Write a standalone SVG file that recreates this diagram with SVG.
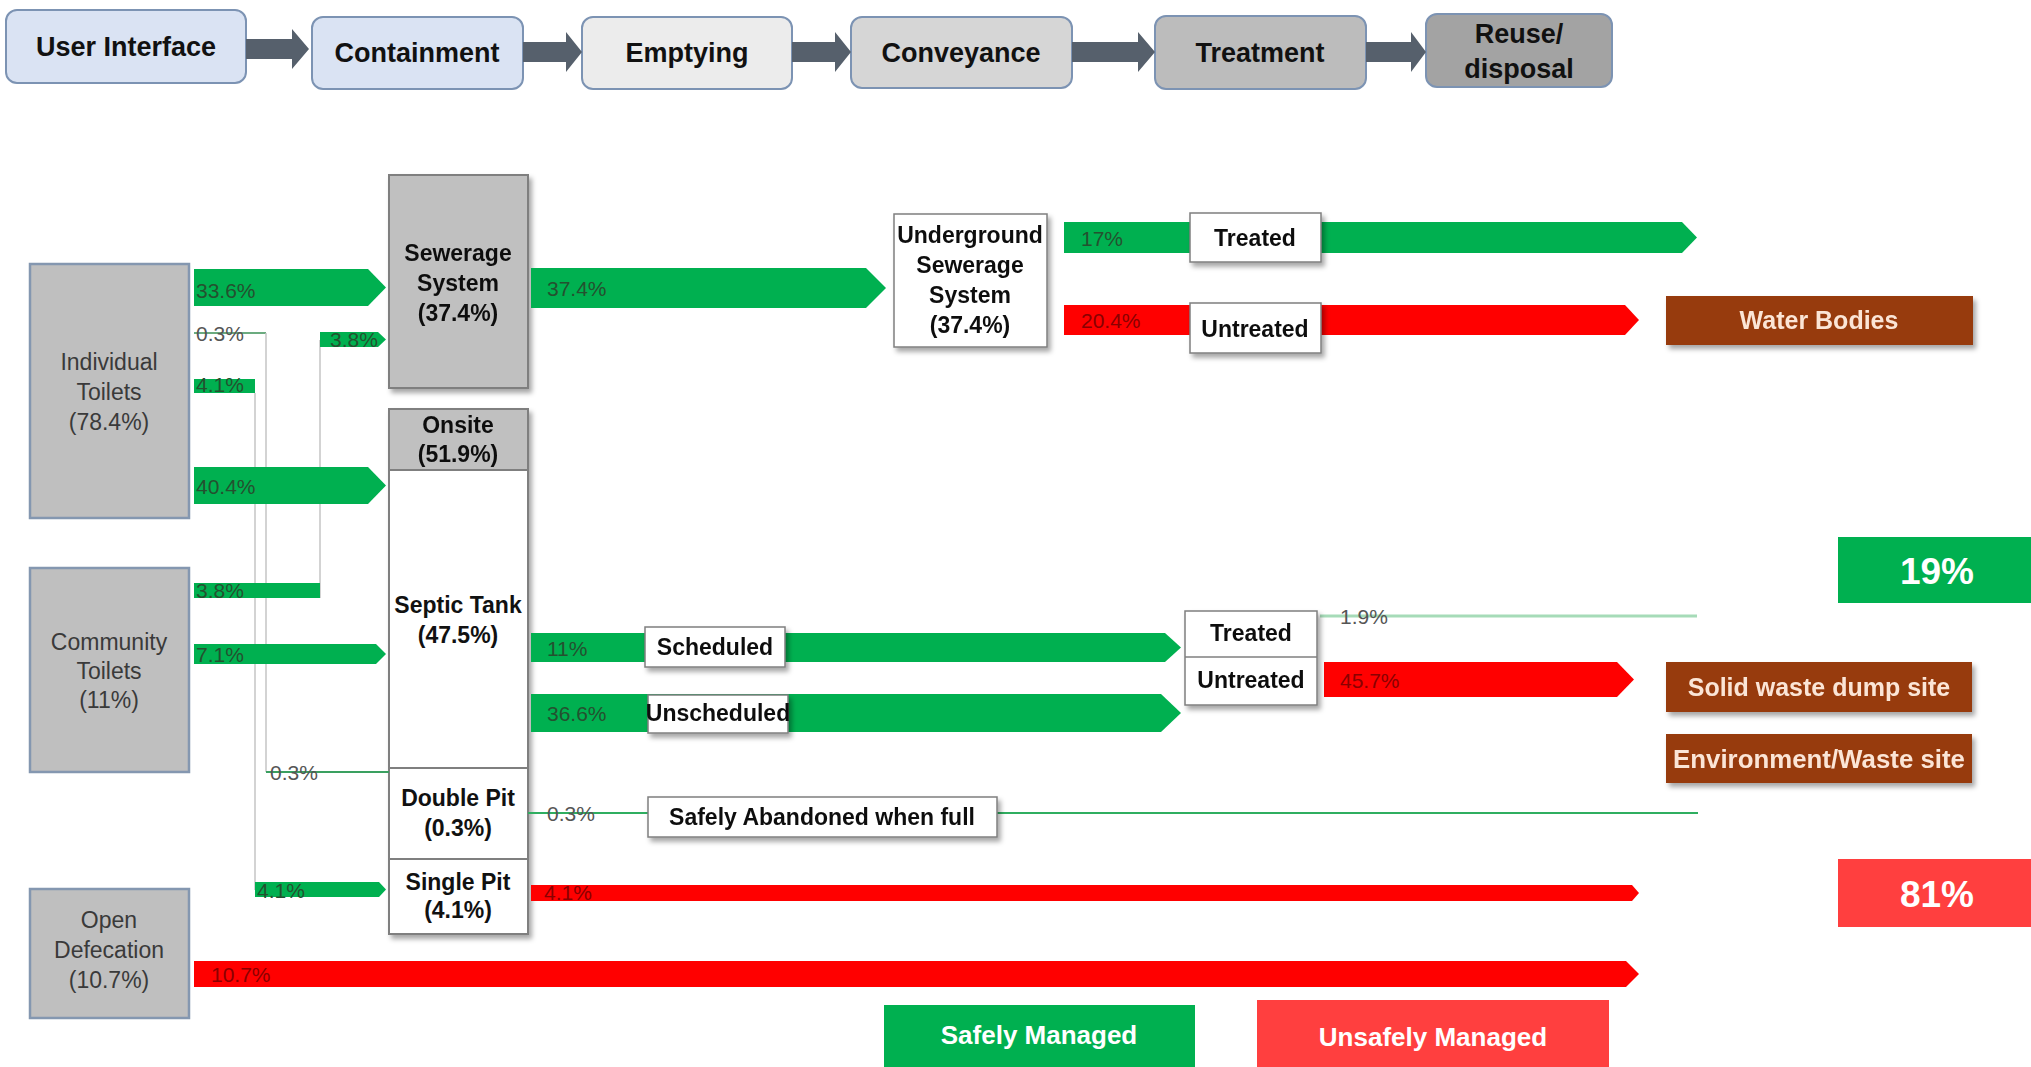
<svg xmlns="http://www.w3.org/2000/svg" width="2031" height="1067" viewBox="0 0 2031 1067">
<style>
.hdr{stroke:#7c93b3;stroke-width:2}
.ht{font-family:"Liberation Sans",Arial,sans-serif;font-weight:bold;font-size:27px;fill:#111;text-anchor:middle}
.src{fill:#bfbfbf;stroke:#8497b0;stroke-width:2.5}
.st{font-family:"Liberation Sans",Arial,sans-serif;font-size:23px;fill:#3a3a3a;text-anchor:middle}
.cbox{stroke:#7f7f7f;stroke-width:2}
.bt{font-family:"Liberation Sans",Arial,sans-serif;font-weight:bold;font-size:23px;fill:#111;text-anchor:middle}
.lbl{fill:#fff;stroke:#7f7f7f;stroke-width:1.5}
.g{fill:#00b050}
.r{fill:#ff0000}
.pg{font-family:"Liberation Sans Narrow","Liberation Sans",Arial,sans-serif;font-size:21px;fill:#24512f}
.pr{font-family:"Liberation Sans Narrow","Liberation Sans",Arial,sans-serif;font-size:21px;fill:#8a0000}
.pk{font-family:"Liberation Sans Narrow","Liberation Sans",Arial,sans-serif;font-size:21px;fill:#555}
.dest{fill:#973a0c}
.dt{font-family:"Liberation Sans",Arial,sans-serif;font-weight:bold;font-size:25px;fill:#fbe5d6;text-anchor:middle}
.big{font-family:"Liberation Sans",Arial,sans-serif;font-weight:bold;font-size:37px;fill:#fff;text-anchor:middle}
.leg{font-family:"Liberation Sans",Arial,sans-serif;font-weight:bold;font-size:26px;fill:#fff;text-anchor:middle}
.harrow{fill:#56606c}
</style>
<defs>
<filter id="sh" x="-20%" y="-20%" width="150%" height="150%">
<feDropShadow dx="3" dy="4" stdDeviation="2.5" flood-color="#000" flood-opacity="0.35"/>
</filter>
</defs>
<rect width="2031" height="1067" fill="#fff"/>

<!-- header chain -->
<g id="hdr-user"><rect class="hdr" x="6" y="10" width="240" height="73" rx="11" fill="#dae3f3"/><text class="ht" x="126" y="56">User Interface</text></g>
<g id="hdr-containment"><rect class="hdr" x="312" y="17" width="211" height="72" rx="11" fill="#dae3f3"/><text class="ht" x="417" y="62">Containment</text></g>
<g id="hdr-emptying"><rect class="hdr" x="582" y="17" width="210" height="72" rx="11" fill="#ececec"/><text class="ht" x="687" y="62">Emptying</text></g>
<g id="hdr-conveyance"><rect class="hdr" x="851" y="17" width="221" height="71" rx="11" fill="#d6d6d6"/><text class="ht" x="961" y="62">Conveyance</text></g>
<g id="hdr-treatment"><rect class="hdr" x="1155" y="16" width="211" height="73" rx="11" fill="#bcbcbc"/><text class="ht" x="1260" y="62">Treatment</text></g>
<g id="hdr-reuse"><rect class="hdr" x="1426" y="14" width="186" height="73" rx="11" fill="#a3a3a3"/><text class="ht" x="1519" y="43">Reuse/</text><text class="ht" x="1519" y="78">disposal</text></g>

<!-- source nodes -->
<g id="individual"><rect class="src" x="30" y="264" width="159" height="254"/><text class="st" x="109" y="370">Individual</text><text class="st" x="109" y="400">Toilets</text><text class="st" x="109" y="430">(78.4%)</text></g>
<g id="community"><rect class="src" x="30" y="568" width="159" height="204"/><text class="st" x="109" y="650">Community</text><text class="st" x="109" y="679">Toilets</text><text class="st" x="109" y="708">(11%)</text></g>
<g id="open"><rect class="src" x="30" y="889" width="159" height="129"/><text class="st" x="109" y="928">Open</text><text class="st" x="109" y="958">Defecation</text><text class="st" x="109" y="988">(10.7%)</text></g>

<!-- containment -->
<g id="sewerage" filter="url(#sh)"><rect class="cbox" x="389" y="175" width="139" height="213" fill="#c0c0c0"/><text class="bt" x="458" y="261">Sewerage</text><text class="bt" x="458" y="291">System</text><text class="bt" x="458" y="321">(37.4%)</text></g>
<g id="onsite" filter="url(#sh)">
<rect class="cbox" x="389" y="409" width="139" height="525" fill="#fff"/>
<rect class="cbox" x="389" y="409" width="139" height="61" fill="#c0c0c0"/>
<line x1="389" y1="768" x2="528" y2="768" stroke="#7f7f7f" stroke-width="2"/>
<line x1="389" y1="859" x2="528" y2="859" stroke="#7f7f7f" stroke-width="2"/>
<text class="bt" x="458" y="433">Onsite</text><text class="bt" x="458" y="462">(51.9%)</text>
</g>
<g id="septic"><text class="bt" x="458" y="613">Septic Tank</text><text class="bt" x="458" y="643">(47.5%)</text></g>
<g id="doublepit"><text class="bt" x="458" y="806">Double Pit</text><text class="bt" x="458" y="836">(0.3%)</text></g>
<g id="singlepit"><text class="bt" x="458" y="890">Single Pit</text><text class="bt" x="458" y="918">(4.1%)</text></g>

<!-- connectors -->
<g id="connectors">
<polygon class="harrow" points="246,39 292,39 292,29 309,49 292,69 292,59 246,59"/>
<polygon class="harrow" points="523,42 566,42 566,32 582,52 566,72 566,62 523,62"/>
<polygon class="harrow" points="792,42 835,42 835,32 851,52 835,72 835,62 792,62"/>
<polygon class="harrow" points="1072,42 1138,42 1138,32 1155,52 1138,72 1138,62 1072,62"/>
<polygon class="harrow" points="1366,42 1411,42 1411,32 1426,52 1411,72 1411,62 1366,62"/>

<line x1="194" y1="333" x2="266" y2="333" stroke="#3a8f55" stroke-width="1.5"/>
<line x1="266" y1="333" x2="266" y2="772" stroke="#c4c4c4" stroke-width="1.5"/>
<line x1="266" y1="772" x2="389" y2="772" stroke="#3aa060" stroke-width="2"/>
<line x1="255" y1="393" x2="255" y2="890" stroke="#c4c4c4" stroke-width="1.5"/>
<line x1="320" y1="340" x2="320" y2="598" stroke="#c4c4c4" stroke-width="1.5"/>
<line x1="528" y1="813" x2="1698" y2="813" stroke="#2fae60" stroke-width="2"/>
<line x1="1320" y1="616" x2="1697" y2="616" stroke="#a6dbb8" stroke-width="3"/>

<polygon class="g" points="194,269 368,269 386,287.5 368,306 194,306"/>
<polygon class="g" points="320,332 378,332 386,339.5 378,347 320,347"/>
<rect class="g" x="194" y="379" width="61" height="14"/>
<polygon class="g" points="194,467 368,467 386,485.5 368,504 194,504"/>
<rect class="g" x="194" y="583" width="126" height="15"/>
<polygon class="g" points="194,644 376,644 386,654 376,664 194,664"/>
<polygon class="g" points="255,882 379,882 386,889.5 379,897 255,897"/>
<polygon class="g" points="531,268 866,268 886,288 866,308 531,308"/>
<rect class="g" x="1064" y="222" width="126" height="31"/>
<polygon class="g" points="1320,222 1682,222 1697,237.5 1682,253 1320,253"/>
<rect class="r" x="1064" y="305" width="126" height="30"/>
<polygon class="r" points="1320,305 1625,305 1639,320 1625,335 1320,335"/>
<polygon class="g" points="531,633 1165,633 1181,647.5 1165,662 531,662"/>
<polygon class="g" points="531,694 1161,694 1181,713 1161,732 531,732"/>
<polygon class="r" points="1324,662 1617,662 1634,679.5 1617,697 1324,697"/>
<polygon class="r" points="531,885 1632,885 1639,893 1632,901 531,901"/>
<polygon class="r" points="194,961 1626,961 1639,974 1626,987 194,987"/>

<text class="pg" x="196" y="298">33.6%</text>
<text class="pk" x="196" y="341">0.3%</text>
<text class="pg" x="330" y="347">3.8%</text>
<text class="pg" x="196" y="392">4.1%</text>
<text class="pg" x="196" y="494">40.4%</text>
<text class="pg" x="196" y="598">3.8%</text>
<text class="pg" x="196" y="662">7.1%</text>
<text class="pk" x="270" y="780">0.3%</text>
<text class="pg" x="257" y="898">4.1%</text>
<text class="pr" x="211" y="982">10.7%</text>
<text class="pg" x="547" y="296">37.4%</text>
<text class="pg" x="1081" y="246">17%</text>
<text class="pr" x="1081" y="328">20.4%</text>
<text class="pg" x="547" y="656">11%</text>
<text class="pg" x="547" y="721">36.6%</text>
<text class="pk" x="547" y="821">0.3%</text>
<text class="pr" x="544" y="900">4.1%</text>
<text class="pk" x="1340" y="624">1.9%</text>
<text class="pr" x="1340" y="688">45.7%</text>
</g>

<!-- conveyance / treatment -->
<g id="underground" filter="url(#sh)"><rect class="lbl" x="894" y="214" width="153" height="133"/><text class="bt" x="970" y="243">Underground</text><text class="bt" x="970" y="273">Sewerage</text><text class="bt" x="970" y="303">System</text><text class="bt" x="970" y="333">(37.4%)</text></g>
<g id="treated-sewer" filter="url(#sh)"><rect class="lbl" x="1190" y="213" width="131" height="49"/><text class="bt" x="1255" y="246">Treated</text></g>
<g id="untreated-sewer" filter="url(#sh)"><rect class="lbl" x="1190" y="303" width="131" height="50"/><text class="bt" x="1255" y="337">Untreated</text></g>
<g id="scheduled" filter="url(#sh)"><rect class="lbl" x="645" y="627" width="140" height="40"/><text class="bt" x="715" y="655">Scheduled</text></g>
<g id="unscheduled" filter="url(#sh)"><rect class="lbl" x="648" y="695" width="140" height="38"/><text class="bt" x="718" y="721">Unscheduled</text></g>
<g id="treatment-onsite" filter="url(#sh)"><rect class="lbl" x="1185" y="611" width="132" height="94"/><line x1="1185" y1="657" x2="1317" y2="657" stroke="#7f7f7f" stroke-width="1.5"/><text class="bt" x="1251" y="641">Treated</text><text class="bt" x="1251" y="688">Untreated</text></g>
<g id="abandoned" filter="url(#sh)"><rect class="lbl" x="648" y="797" width="349" height="40"/><text class="bt" x="822" y="825">Safely Abandoned when full</text></g>

<!-- destinations -->
<g id="water-bodies" filter="url(#sh)"><rect class="dest" x="1666" y="296" width="307" height="49"/><text class="dt" x="1819" y="329">Water Bodies</text></g>
<g id="solid-waste" filter="url(#sh)"><rect class="dest" x="1666" y="662" width="306" height="50"/><text class="dt" x="1819" y="696">Solid waste dump site</text></g>
<g id="environment" filter="url(#sh)"><rect class="dest" x="1666" y="734" width="306" height="49"/><text class="dt" x="1819" y="768" textLength="292" lengthAdjust="spacingAndGlyphs">Environment/Waste site</text></g>

<!-- totals & legend -->
<g id="total-safe"><rect x="1838" y="537" width="193" height="66" fill="#00b050"/><text class="big" x="1937" y="584">19%</text></g>
<g id="total-unsafe"><rect x="1838" y="859" width="193" height="68" fill="#ff3f3f"/><text class="big" x="1937" y="907">81%</text></g>
<g id="legend-safe"><rect x="884" y="1005" width="311" height="62" fill="#00b050"/><text class="leg" x="1039" y="1044">Safely Managed</text></g>
<g id="legend-unsafe"><rect x="1257" y="1000" width="352" height="67" fill="#ff3f3f"/><text class="leg" x="1433" y="1046">Unsafely Managed</text></g>
</svg>
